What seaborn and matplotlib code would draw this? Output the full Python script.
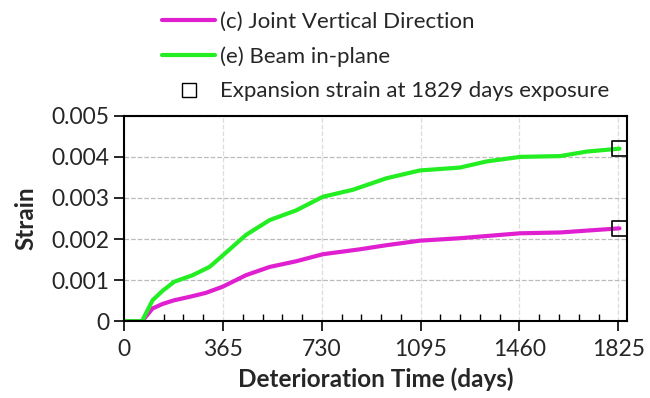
import numpy as np
import pandas as pd
import matplotlib.pyplot as plt
import seaborn as sns
from matplotlib.lines import Line2D
from matplotlib.ticker import MultipleLocator

# Data (days, strain)
days_joint = [0, 66, 105, 142, 185, 240, 302, 364, 450, 537, 636, 734, 870, 969, 1092, 1240, 1462, 1610, 1829]
strain_joint = [0, 0, 0.00031, 0.00042, 0.00051, 0.00059, 0.00069, 0.00084, 0.00112, 0.00132, 0.00146,
                0.00163, 0.00175, 0.00185, 0.00196, 0.00202, 0.00214, 0.00216, 0.00226]

days_beam = [0, 66, 105, 142, 185, 253, 315, 352, 450, 537, 636, 734, 845, 969, 1092, 1240, 1339, 1462,
             1610, 1709, 1829]
strain_beam = [0, 0, 0.00051, 0.00074, 0.00096, 0.00112, 0.00132, 0.00153, 0.0021, 0.00246, 0.0027,
               0.00303, 0.0032, 0.00348, 0.00367, 0.00374, 0.00389, 0.004, 0.00402, 0.00413, 0.0042]

# Expansion strain at 1829 days
marker_days = [1829, 1829]
marker_strain = [0.00226, 0.0042]

series = ['(c) Joint Vertical Direction', '(e) Beam in-plane']
colors = ['#E020D0', '#22EE22']

df = pd.concat([
    pd.DataFrame({'days': days_joint, 'strain': strain_joint, 'series': series[0]}),
    pd.DataFrame({'days': days_beam, 'strain': strain_beam, 'series': series[1]}),
])

sns.set_style('white')
plt.rcParams['font.family'] = ['Lato', 'DejaVu Sans']

fig = plt.figure(figsize=(6.5, 3.98), dpi=100)
ax = fig.add_axes([0.191, 0.193, 0.774, 0.516])

sns.lineplot(data=df, x='days', y='strain', hue='series', palette=colors,
             linewidth=3, ax=ax, legend=False)
ax.scatter(marker_days, marker_strain, marker='s', s=120, facecolors='none',
           edgecolors='black', linewidths=1.2, zorder=5)

ax.set_xlim(0, 1858)
ax.set_ylim(0, 0.005)
ax.xaxis.set_major_locator(MultipleLocator(365))
ax.xaxis.set_minor_locator(MultipleLocator(73))
ax.yaxis.set_major_locator(MultipleLocator(0.001))
ax.set_yticklabels(['0' if v == 0 else f'{v:.3f}' for v in ax.get_yticks()])

ax.grid(True, axis='y', linestyle='--', color='#BBBBBB', linewidth=0.9)
ax.grid(True, axis='x', linestyle='--', color='#DDDDDD', linewidth=0.9)
ax.tick_params(axis='both', which='major', direction='out', length=7, width=1.2,
               color='black', labelsize=16.5, bottom=True, left=True)
ax.tick_params(axis='x', which='minor', direction='in', length=5, width=1,
               color='black', bottom=True)
ax.tick_params(axis='x', pad=6)
for s in ax.spines.values():
    s.set_color('black')
    s.set_linewidth(1.5)

ax.set_xlabel('Deterioration Time (days)', fontsize=17.5, fontweight='bold', labelpad=5)
ax.set_ylabel('Strain', fontsize=17.5, fontweight='bold', labelpad=10)

handles = [Line2D([], [], color=colors[0], linewidth=3),
           Line2D([], [], color=colors[1], linewidth=3),
           Line2D([], [], marker='s', markersize=10, markerfacecolor='none',
                  markeredgecolor='black', markeredgewidth=1, linestyle='none')]
ax.legend(handles, series + ['Expansion strain at 1829 days exposure'],
          loc='lower left', bbox_to_anchor=(0.075, 1.07), frameon=False,
          borderpad=0, borderaxespad=0, fontsize=16, handlelength=2.4,
          labelspacing=0.65, handletextpad=0.2)

plt.savefig('out.png', dpi=100)
